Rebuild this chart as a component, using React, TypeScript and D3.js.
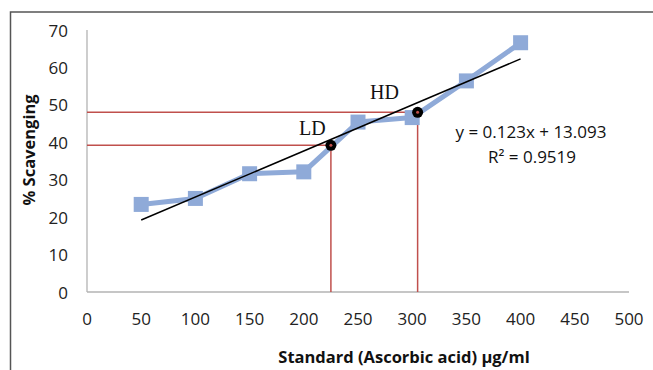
import React from "react";
import * as d3 from "d3";

const concentrations = [50, 100, 150, 200, 250, 300, 350, 400];
const scavenging = [23.4, 25.0, 31.6, 32.1, 45.4, 46.6, 56.4, 66.6];
const xTicks = [0, 50, 100, 150, 200, 250, 300, 350, 400, 450, 500];
const yTicks = [0, 10, 20, 30, 40, 50, 60, 70];
const trendSlope = 0.123;
const trendIntercept = 13.093;
const trendRange = [50, 400];
const doses = [
  { label: "LD", x: 225, y: 39.2 },
  { label: "HD", x: 305, y: 48 },
];
const equationText = "y = 0.123x + 13.093";
const r2Text = "R² = 0.9519";
const xTitle = "Standard (Ascorbic acid) µg/ml";
const yTitle = "% Scavenging";

const W = 653;
const H = 370;
const sans = "'Open Sans', sans-serif";

export default function App() {
  const x = d3.scaleLinear().domain([0, 500]).range([87, 629]);
  const y = d3.scaleLinear().domain([0, 70]).range([292, 30]);
  const line = d3
    .line<number>()
    .x((_, i) => x(concentrations[i]))
    .y((d) => y(d));
  const red = "#c0504d";
  const blue = "#8faad8";
  const ms = 15;
  return (
    <svg
      width={W}
      height={H}
      style={{ position: "absolute", left: 0, top: 0, background: "#fff" }}
    >
      <rect x={0} y={0} width={W} height={H} fill="#fff" />
      <path d={`M${W + 5},12 H10.5 V${H + 5}`} fill="none" stroke="#555" strokeWidth={1.5} />
      {/* axes */}
      <line x1={x(0)} x2={x(0)} y1={y(70)} y2={y(0)} stroke="#b3b3b3" strokeWidth={1.3} />
      <line x1={x(0)} x2={x(500)} y1={y(0)} y2={y(0)} stroke="#b3b3b3" strokeWidth={1.3} />
      {yTicks.map((t) => (
        <text
          key={"y" + t}
          x={68}
          y={y(t)}
          textAnchor="end"
          dominantBaseline="central"
          fontFamily={sans}
          fontSize={17}
          fill="#222"
        >
          {t}
        </text>
      ))}
      {xTicks.map((t) => (
        <text
          key={"x" + t}
          x={x(t)}
          y={318}
          textAnchor="middle"
          dominantBaseline="central"
          fontFamily={sans}
          fontSize={17}
          fill="#222"
        >
          {t}
        </text>
      ))}
      {/* red reference lines */}
      {doses.map((d) => (
        <g key={"r" + d.label}>
          <line x1={x(0)} x2={x(d.x)} y1={y(d.y)} y2={y(d.y)} stroke={red} strokeWidth={1.5} />
          <line x1={x(d.x)} x2={x(d.x)} y1={y(d.y)} y2={y(0)} stroke={red} strokeWidth={1.5} />
        </g>
      ))}
      {/* data series */}
      <path d={line(scavenging) || ""} fill="none" stroke={blue} strokeWidth={5} strokeLinejoin="round" />
      {scavenging.map((v, i) => (
        <rect
          key={"m" + i}
          x={x(concentrations[i]) - ms / 2}
          y={y(v) - ms / 2}
          width={ms}
          height={ms}
          fill={blue}
        />
      ))}
      {/* trendline */}
      <line
        x1={x(trendRange[0])}
        y1={y(trendSlope * trendRange[0] + trendIntercept)}
        x2={x(trendRange[1])}
        y2={y(trendSlope * trendRange[1] + trendIntercept)}
        stroke="#000"
        strokeWidth={1.5}
      />
      {/* dose points */}
      {doses.map((d) => (
        <g key={"d" + d.label}>
          <circle cx={x(d.x)} cy={y(d.y)} r={5.5} fill="#000" />
          <circle cx={x(d.x)} cy={y(d.y)} r={1.5} fill={red} />
        </g>
      ))}
      <text x={299} y={135} fontFamily="'Liberation Serif', 'Times New Roman', serif" fontSize={20} fill="#111">
        LD
      </text>
      <text x={370} y={99} fontFamily="'Liberation Serif', 'Times New Roman', serif" fontSize={20} fill="#111">
        HD
      </text>
      <text x={531} y={131} textAnchor="middle" dominantBaseline="central" fontFamily={sans} fontSize={17} fill="#111">
        {equationText}
      </text>
      <text x={532} y={156} textAnchor="middle" dominantBaseline="central" fontFamily={sans} fontSize={17} fill="#111">
        {r2Text}
      </text>
      {/* axis titles */}
      <text
        x={404}
        y={356}
        textAnchor="middle"
        dominantBaseline="central"
        fontFamily={sans}
        fontWeight="bold"
        fontSize={16.5}
        fill="#111"
      >
        {xTitle}
      </text>
      <text
        transform="translate(28,150) rotate(-90)"
        textAnchor="middle"
        dominantBaseline="central"
        fontFamily={sans}
        fontWeight="bold"
        fontSize={16.5}
        fill="#111"
      >
        {yTitle}
      </text>
    </svg>
  );
}
